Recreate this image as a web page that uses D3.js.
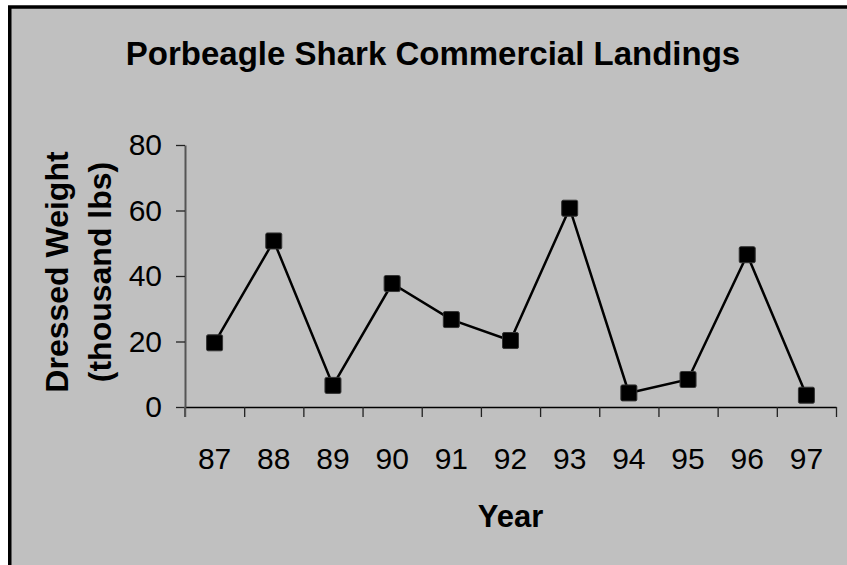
<!DOCTYPE html>
<html>
<head>
<meta charset="utf-8">
<script src="https://cdn.jsdelivr.net/npm/d3@7"></script>
<style>
  html, body { margin: 0; padding: 0; background: #fff; }
  text { font-family: Arial, 'Liberation Sans', sans-serif; fill: #000; }
</style>
</head>
<body>
<div id="chart"></div>
<script>
// Data
const years = ['87', '88', '89', '90', '91', '92', '93', '94', '95', '96', '97'];
const landings = [19.6, 50.7, 6.6, 37.7, 26.7, 20.3, 60.7, 4.3, 8.4, 46.5, 3.6];
const yTicks = [0, 20, 40, 60, 80];

const W = 847, H = 565;

const svg = d3.select('#chart')
    .append('svg')
    .attr('width', W)
    .attr('height', H);

// gray panel with black frame (right/bottom edges run off the picture)
svg.append('rect')
    .attr('x', 9.75)
    .attr('y', 7)
    .attr('width', W + 20)
    .attr('height', H + 20)
    .attr('fill', '#c0c0c0')
    .attr('stroke', '#000')
    .attr('stroke-width', 3.5);

// Scales
const plot = { left: 185, right: 836, top: 145, bottom: 407 };

const xScale = d3.scaleBand()
    .domain(years)
    .range([plot.left, plot.right]);

const xEdge = d3.scaleLinear()
    .domain([0, years.length])
    .range([plot.left, plot.right]);

const yScale = d3.scaleLinear()
    .domain([0, 80])
    .range([plot.bottom, plot.top]);

// Title
svg.append('text')
    .attr('x', 433)
    .attr('y', 65)
    .attr('text-anchor', 'middle')
    .style('font-size', '33px')
    .style('font-weight', 'bold')
    .text('Porbeagle Shark Commercial Landings');

// x axis: ticks on category edges, labels at centres
svg.append('g')
    .attr('class', 'x-edges')
    .attr('transform', 'translate(0,' + plot.bottom + ')')
    .call(d3.axisBottom(xEdge)
        .tickValues(d3.range(0, years.length + 1))
        .tickSize(10)
        .tickSizeOuter(0)
        .tickFormat(''))
    .call(g => g.select('.domain').attr('stroke', '#000').attr('stroke-width', 1.5))
    .call(g => g.selectAll('.tick line').attr('stroke', '#222').attr('stroke-width', 1.3));

svg.append('g')
    .attr('class', 'x-labels')
    .attr('transform', 'translate(0,' + plot.bottom + ')')
    .call(d3.axisBottom(xScale).tickSize(0).tickPadding(62))
    .call(g => g.select('.domain').remove())
    .call(g => g.selectAll('text')
        .attr('dy', null)
        .style('font-size', '30px')
        .style('font-family', "Arial, 'Liberation Sans', sans-serif"));

// y axis
svg.append('g')
    .attr('class', 'y-axis')
    .attr('transform', 'translate(' + plot.left + ',0)')
    .call(d3.axisLeft(yScale)
        .tickValues(yTicks)
        .tickSize(9)
        .tickSizeOuter(0)
        .tickPadding(14))
    .call(g => g.select('.domain').attr('stroke', '#555').attr('stroke-width', 2))
    .call(g => g.selectAll('.tick line').attr('stroke', '#222').attr('stroke-width', 1.3))
    .call(g => g.selectAll('text')
        .style('font-size', '30px')
        .style('font-family', "Arial, 'Liberation Sans', sans-serif"));

// y axis line continues down to the tick length of the x axis
svg.append('line')
    .attr('x1', plot.left).attr('x2', plot.left)
    .attr('y1', plot.bottom).attr('y2', plot.bottom + 10)
    .attr('stroke', '#555')
    .attr('stroke-width', 2);

// Axis titles
svg.append('text')
    .attr('x', (plot.left + plot.right) / 2)
    .attr('y', 527)
    .attr('text-anchor', 'middle')
    .style('font-size', '31px')
    .style('font-weight', 'bold')
    .text('Year');

const yTitle = svg.append('text')
    .attr('transform', 'translate(68,272) rotate(-90)')
    .attr('text-anchor', 'middle')
    .style('font-size', '32px')
    .style('font-weight', 'bold');
yTitle.append('tspan').attr('x', 0).attr('y', 0).text('Dressed Weight');
yTitle.append('tspan').attr('x', 0).attr('y', 43).text('(thousand lbs)');

// Line
const points = years.map((yr, i) => ({ year: yr, value: landings[i] }));

svg.append('path')
    .datum(points)
    .attr('fill', 'none')
    .attr('stroke', '#000')
    .attr('stroke-width', 2.5)
    .attr('d', d3.line()
        .x(d => xScale(d.year) + xScale.bandwidth() / 2)
        .y(d => yScale(d.value)));

// Markers
const size = 16;
svg.selectAll('.marker')
    .data(points)
    .enter()
    .append('rect')
    .attr('class', 'marker')
    .attr('x', d => xScale(d.year) + xScale.bandwidth() / 2 - size / 2)
    .attr('y', d => yScale(d.value) - size / 2)
    .attr('width', size)
    .attr('height', size)
    .attr('rx', 1.5)
    .attr('fill', '#000')
    .attr('stroke', '#333')
    .attr('stroke-width', 1);
</script>
</body>
</html>
